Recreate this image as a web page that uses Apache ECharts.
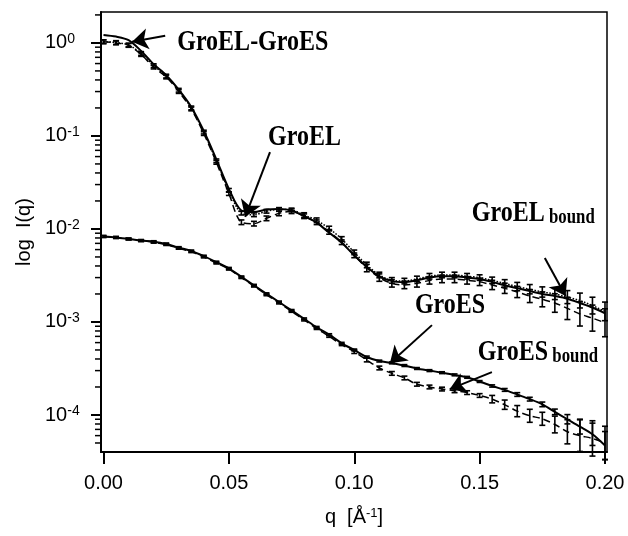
<!DOCTYPE html>
<html>
<head>
<meta charset="utf-8">
<style>
  html, body { margin: 0; padding: 0; background: #fff; }
  #chart { width: 628px; height: 536px; }
</style>
<script src="https://cdn.jsdelivr.net/npm/echarts@6/dist/echarts.min.js"></script>
</head>
<body>
<div id="chart"></div>
<script>
// q in 1/Angstrom
const q = [0, 0.005, 0.01, 0.015, 0.02, 0.025, 0.03, 0.035, 0.04, 0.045,
  0.05, 0.055, 0.06, 0.065, 0.07, 0.075, 0.08, 0.085, 0.09, 0.095,
  0.1, 0.105, 0.11, 0.115, 0.12, 0.125, 0.13, 0.135, 0.14, 0.145,
  0.15, 0.155, 0.16, 0.165, 0.17, 0.175, 0.18, 0.185, 0.19, 0.195, 0.2]

// I(q)
const groelGroes = [1.22, 1.17, 1.07, 0.82, 0.59, 0.45, 0.315, 0.205, 0.113, 0.056,
  0.027, 0.0158, 0.0152, 0.0162, 0.0164, 0.0158, 0.0137, 0.0117, 0.0091, 0.0071,
  0.0052, 0.0039, 0.0031, 0.00275, 0.00268, 0.0028, 0.003, 0.0031, 0.0031, 0.003,
  0.0029, 0.0027, 0.00248, 0.0023, 0.00215, 0.002, 0.0019, 0.00178, 0.0016, 0.00143, 0.00124]
const groel = [1.03, 1.01, 0.95, 0.77, 0.57, 0.44, 0.31, 0.2, 0.11, 0.054,
  0.026, 0.0148, 0.0142, 0.0155, 0.0162, 0.016, 0.0141, 0.0124, 0.0101, 0.0078,
  0.0056, 0.0041, 0.0032, 0.0028, 0.00275, 0.0029, 0.0031, 0.0032, 0.0032, 0.0031,
  0.003, 0.0028, 0.0026, 0.0024, 0.00225, 0.0021, 0.002, 0.00185, 0.0017, 0.0015, 0.0013]
const groelBound = [1.03, 1.0, 0.94, 0.75, 0.55, 0.43, 0.3, 0.195, 0.106, 0.052,
  0.024, 0.0118, 0.0114, 0.013, 0.0147, 0.0155, 0.0137, 0.0118, 0.0093, 0.0072,
  0.0052, 0.0038, 0.003, 0.0026, 0.0025, 0.0026, 0.0028, 0.0029, 0.0029, 0.0028,
  0.0027, 0.0025, 0.0023, 0.0021, 0.0019, 0.00175, 0.0016, 0.0014, 0.00122, 0.0011, 0.00098]
const groes = [0.0083, 0.0081, 0.0078, 0.0075, 0.0073, 0.0069, 0.0063, 0.0058, 0.0051, 0.0044,
  0.00377, 0.00305, 0.00248, 0.00201, 0.00164, 0.00133, 0.00108, 0.000875, 0.00073, 0.00059,
  0.0005, 0.00042, 0.00038, 0.000363, 0.00034, 0.000316, 0.0003, 0.000285, 0.00027, 0.000254,
  0.000229, 0.000205, 0.000186, 0.000166, 0.000148, 0.00013, 0.000108, 0.00009, 0.000075, 0.000062, 0.000047]
const groesBound = [0.0083, 0.0081, 0.0078, 0.0075, 0.0072, 0.0068, 0.0062, 0.0057, 0.005, 0.0043,
  0.0037, 0.003, 0.00243, 0.00196, 0.0016, 0.0013, 0.00105, 0.00085, 0.0007, 0.00057,
  0.00048, 0.00039, 0.00032, 0.00028, 0.00025, 0.000214, 0.0002, 0.00019, 0.000182, 0.000174,
  0.000162, 0.000148, 0.000129, 0.00011, 0.000098, 0.000091, 0.000079, 0.000066, 0.00006, 0.000056, 0.00005]

// error bar half widths, in decades
const groelErr = [0.02, 0.02, 0.02, 0.02, 0.02, 0.02, 0.02, 0.02, 0.02, 0.02,
  0.02, 0.02, 0.02, 0.02, 0.02, 0.02, 0.025, 0.025, 0.025, 0.025,
  0.025, 0.03, 0.03, 0.03, 0.03, 0.03, 0.03, 0.03, 0.03, 0.03,
  0.03, 0.035, 0.04, 0.045, 0.05, 0.055, 0.06, 0.07, 0.08, 0.09, 0.1]
const groelBoundErr = [0.02, 0.02, 0.02, 0.02, 0.02, 0.02, 0.02, 0.02, 0.02, 0.02,
  0.02, 0.025, 0.025, 0.025, 0.025, 0.025, 0.025, 0.025, 0.025, 0.025,
  0.025, 0.04, 0.04, 0.04, 0.04, 0.04, 0.04, 0.04, 0.04, 0.04,
  0.04, 0.05, 0.055, 0.06, 0.07, 0.08, 0.1, 0.12, 0.13, 0.14, 0.15]
const groesErr = [0.01, 0.01, 0.01, 0.01, 0.01, 0.01, 0.01, 0.01, 0.01, 0.01,
  0.01, 0.01, 0.01, 0.01, 0.01, 0.01, 0.01, 0.01, 0.01, 0.01,
  0.01, 0.01, 0.01, 0.01, 0.01, 0.01, 0.01, 0.01, 0.01, 0.01,
  0.01, 0.012, 0.015, 0.02, 0.02, 0.025, 0.03, 0.05, 0.08, 0.12, 0.15]
const groesBoundErr = [0.01, 0.01, 0.01, 0.01, 0.01, 0.01, 0.01, 0.01, 0.01, 0.01,
  0.01, 0.01, 0.01, 0.01, 0.01, 0.01, 0.01, 0.01, 0.01, 0.01,
  0.02, 0.02, 0.02, 0.02, 0.02, 0.02, 0.02, 0.02, 0.02, 0.02,
  0.02, 0.04, 0.05, 0.06, 0.07, 0.07, 0.09, 0.13, 0.17, 0.19, 0.18]

const yTickPowers = [-4, -3, -2, -1, 0]
const xTicks = [0, 0.05, 0.1, 0.15, 0.2]

// annotations: [q, I] of text anchor (left, middle) and arrows tail -> tip
const labels = [
  { text: 'GroEL-GroES', at: [0.0294, 1.005] },
  { text: 'GroEL', at: [0.0656, 0.0977] },
  { text: 'GroEL', sub: 'bound', at: [0.1469, 0.0149] },
  { text: 'GroES', at: [0.1242, 0.00152] },
  { text: 'GroES', sub: 'bound', at: [0.1493, 0.000474] },
]
const arrows = [
  [[0.0246, 1.195], [0.0114, 1.03]],
  [[0.0664, 0.0671], [0.0565, 0.01346]],
  [[0.176, 0.00487], [0.1843, 0.0019]],
  [[0.131, 0.000925], [0.1142, 0.00036]],
  [[0.1549, 0.000289], [0.1381, 0.00019]],
]

const xMin = -0.001
const xMax = 0.2008
const yMin = Math.log10(4.0e-5)
const yMax = Math.log10(2.15)
const lg = (v) => Math.log10(v)

// minor log ticks 2..9 x 10^n, sitting on the left axis
const minorTicks = []
for (let p = -5; p <= 0; p++) {
  for (let k = 2; k <= 9; k++) {
    const v = lg(k) + p
    if (v > yMin && v < yMax) minorTicks.push([xMin, v])
  }
}

const toLine = (ys) => q.map((x, i) => [x, lg(ys[i])])
const toBars = (ys, err) => q.map((x, i) => [x, lg(ys[i]) - err[i], lg(ys[i]) + err[i]])

const renderBar = (params, api) => {
  const x = api.value(0)
  const lo = api.coord([x, api.value(1)])
  const hi = api.coord([x, api.value(2)])
  const w = 3
  const st = { stroke: '#000', lineWidth: 1.6 }
  return {
    type: 'group',
    children: [
      { type: 'line', shape: { x1: lo[0], y1: lo[1], x2: hi[0], y2: hi[1] }, style: st },
      { type: 'line', shape: { x1: lo[0] - w, y1: lo[1], x2: lo[0] + w, y2: lo[1] }, style: st },
      { type: 'line', shape: { x1: hi[0] - w, y1: hi[1], x2: hi[0] + w, y2: hi[1] }, style: st },
    ],
  }
}

const renderMinorTick = (params, api) => {
  const p = api.coord([api.value(0), api.value(1)])
  return {
    type: 'line',
    shape: { x1: p[0] - 6, y1: p[1], x2: p[0], y2: p[1] },
    style: { stroke: '#000', lineWidth: 1.5 },
  }
}

const lineSeries = (name, ys, type, width) => ({
  type: 'line',
  name,
  data: toLine(ys),
  smooth: 0.3,
  showSymbol: false,
  itemStyle: { color: '#000' },
  lineStyle: { color: '#000', width, type },
  z: 3,
})
const barSeries = (ys, err) => ({
  type: 'custom',
  data: toBars(ys, err),
  renderItem: renderBar,
  encode: { x: 0, y: [1, 2] },
  z: 4,
})

const axisFont = { fontFamily: 'Liberation Sans', fontSize: 20, color: '#000' }

const option = {
  animation: false,
  backgroundColor: '#fff',
  grid: {
    left: 101, right: 21, top: 12, bottom: 84,
    show: true, borderColor: '#000', borderWidth: 1.5,
  },
  xAxis: {
    type: 'value',
    min: xMin,
    max: xMax,
    name: 'q  [Å{s|-1}]',
    nameLocation: 'middle',
    nameGap: 55,
    nameTextStyle: {
      ...axisFont,
      rich: { s: { fontFamily: 'Liberation Sans', fontSize: 13, color: '#000', verticalAlign: 'top', lineHeight: 12 } },
    },
    axisLine: { onZero: false, lineStyle: { color: '#000', width: 2 } },
    axisTick: { customValues: xTicks, length: 12, lineStyle: { color: '#000', width: 2 } },
    axisLabel: { customValues: xTicks, margin: 21, ...axisFont, formatter: (v) => v.toFixed(2) },
    splitLine: { show: false },
  },
  yAxis: {
    type: 'value',
    min: yMin,
    max: yMax,
    name: 'log  I(q)',
    nameLocation: 'middle',
    nameGap: 57,
    nameTextStyle: axisFont,
    axisLine: { onZero: false, lineStyle: { color: '#000', width: 2 } },
    axisTick: { customValues: yTickPowers, length: 10, lineStyle: { color: '#000', width: 2 } },
    axisLabel: {
      customValues: yTickPowers,
      align: 'left',
      margin: 56,
      formatter: (v) => '{b|10}{s|' + Math.round(v) + '}',
      rich: {
        b: { ...axisFont, lineHeight: 22 },
        s: { fontFamily: 'Liberation Sans', fontSize: 14, color: '#000', verticalAlign: 'top', lineHeight: 14 },
      },
    },
    splitLine: { show: false },
  },
  series: [
    {
      ...lineSeries('GroEL-GroES', groelGroes, 'solid', 2),
      markLine: {
        silent: true,
        symbol: ['none', 'arrow'],
        symbolSize: 16,
        label: { show: false },
        itemStyle: { color: '#000' },
        lineStyle: { color: '#000', width: 2, type: 'solid' },
        emphasis: { disabled: true },
        data: arrows.map(([a, b]) => [
          { coord: [a[0], lg(a[1])] },
          { coord: [b[0], lg(b[1])] },
        ]),
      },
    },
    lineSeries('GroEL', groel, 'dotted', 1.5),
    lineSeries('GroEL bound', groelBound, [7, 4], 1.5),
    lineSeries('GroES', groes, 'solid', 2),
    lineSeries('GroES bound', groesBound, [7, 4], 1.5),
    barSeries(groel, groelErr),
    barSeries(groelBound, groelBoundErr),
    barSeries(groes, groesErr),
    barSeries(groesBound, groesBoundErr),
    {
      type: 'custom',
      data: minorTicks,
      renderItem: renderMinorTick,
      encode: { x: 0, y: 1 },
      clip: false,
      silent: true,
      z: 5,
    },
  ],
}

const chart = echarts.init(document.getElementById('chart'))
chart.setOption(option)

// annotation text, placed through the grid's coordinate system
const serif = { fontFamily: 'Liberation Serif', fontWeight: 'bold', fill: '#000' }
chart.setOption({
  graphic: labels.map((l) => {
    const p = chart.convertToPixel({ gridIndex: 0 }, [l.at[0], lg(l.at[1])])
    return {
      type: 'text',
      x: p[0],
      y: p[1],
      scaleX: 0.8,
      style: {
        text: l.sub ? '{m|' + l.text + '}{s| ' + l.sub + '}' : '{m|' + l.text + '}',
        verticalAlign: 'middle',
        align: 'left',
        rich: {
          m: { ...serif, fontSize: 30, lineHeight: 30 },
          s: { ...serif, fontSize: 21, lineHeight: 21, verticalAlign: 'bottom' },
        },
      },
    }
  }),
})
</script>
</body>
</html>
